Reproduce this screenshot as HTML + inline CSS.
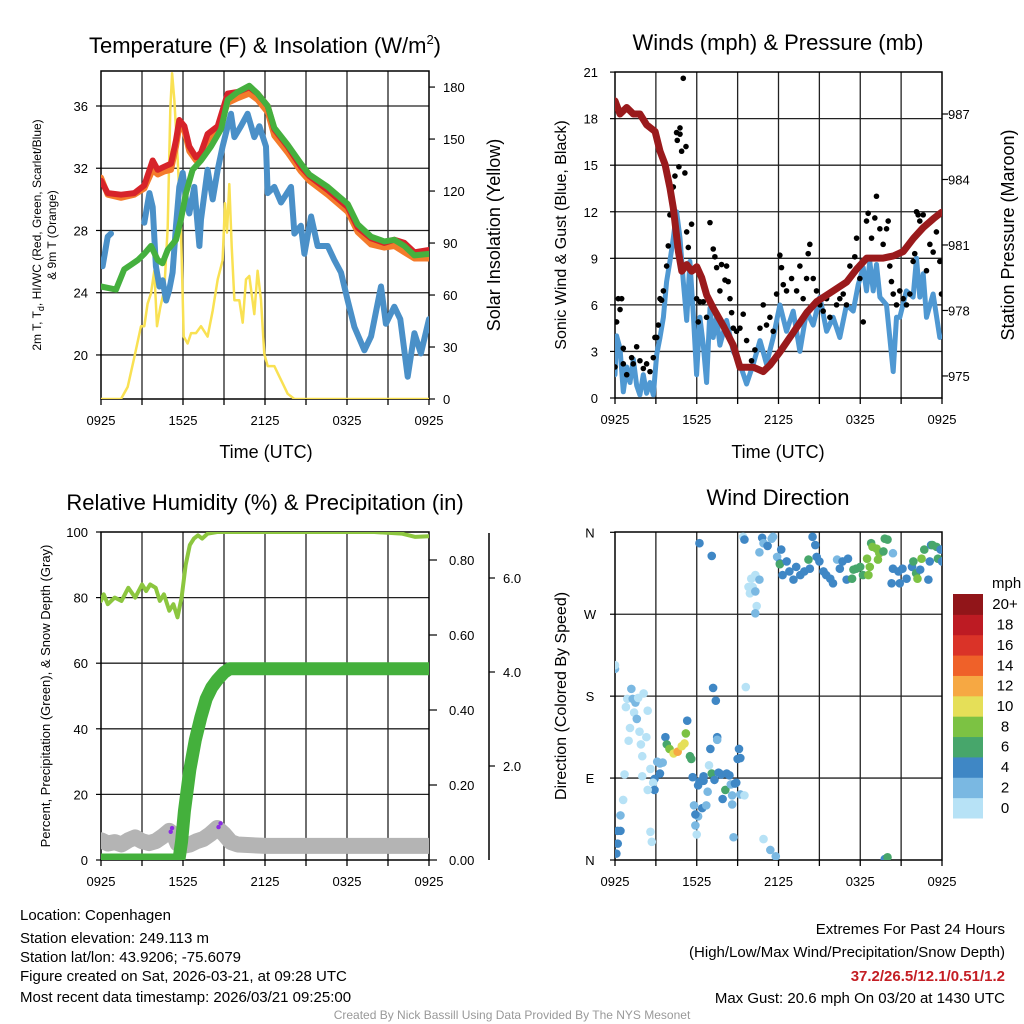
<!DOCTYPE html>
<html><head><meta charset="utf-8"><style>
html,body{margin:0;padding:0;background:#fff;}
svg{display:block;font-family:"Liberation Sans",Arial,sans-serif;}
</style></head><body>
<svg id="fig" width="1024" height="1024" viewBox="0 0 1024 1024" xmlns="http://www.w3.org/2000/svg">
<defs>
<clipPath id="cTL"><rect x="101" y="71" width="328" height="328"/></clipPath>
<clipPath id="cTR"><rect x="615" y="72" width="327" height="326"/></clipPath>
<clipPath id="cBL"><rect x="101" y="532" width="328" height="328"/></clipPath>
<clipPath id="cBR"><rect x="615" y="532" width="327" height="328"/></clipPath>
</defs>
<g id="layer"></g>
<text x="265" y="53" font-size="22" text-anchor="middle">Temperature (F) &amp; Insolation (W/m<tspan font-size="13" dy="-9">2</tspan><tspan dy="9">)</tspan></text>
<text x="778" y="50" font-size="22" text-anchor="middle">Winds (mph) &amp; Pressure (mb)</text>
<text x="265" y="510" font-size="22" text-anchor="middle">Relative Humidity (%) &amp; Precipitation (in)</text>
<text x="778" y="505" font-size="22" text-anchor="middle">Wind Direction</text>
<text x="266" y="458" font-size="18" text-anchor="middle">Time (UTC)</text>
<text x="778" y="458" font-size="18" text-anchor="middle">Time (UTC)</text>
<text transform="translate(41,235) rotate(-90)" font-size="12" text-anchor="middle">2m T, T<tspan font-size="9" dy="3">d</tspan><tspan dy="-3">, HI/WC (Red, Green, Scarlet/Blue)</tspan></text>
<text transform="translate(56,235) rotate(-90)" font-size="12" text-anchor="middle">&amp; 9m T (Orange)</text>
<text transform="translate(500,235) rotate(-90)" font-size="18" text-anchor="middle">Solar Insolation (Yellow)</text>
<text transform="translate(566,235) rotate(-90)" font-size="16" text-anchor="middle">Sonic Wind &amp; Gust (Blue, Black)</text>
<text transform="translate(1014,235) rotate(-90)" font-size="18" text-anchor="middle">Station Pressure (Maroon)</text>
<text transform="translate(50,696) rotate(-90)" font-size="13" text-anchor="middle">Percent, Precipitation (Green), &amp; Snow Depth (Gray)</text>
<text transform="translate(566,696) rotate(-90)" font-size="16" text-anchor="middle">Direction (Colored By Speed)</text>
<g font-size="15">
<text x="20" y="920">Location: Copenhagen</text>
<text x="20" y="943">Station elevation: 249.113 m</text>
<text x="20" y="962">Station lat/lon: 43.9206; -75.6079</text>
<text x="20" y="981">Figure created on Sat, 2026-03-21, at 09:28 UTC</text>
<text x="20" y="1002">Most recent data timestamp: 2026/03/21 09:25:00</text>
</g>
<g font-size="15" text-anchor="end">
<text x="1005" y="934">Extremes For Past 24 Hours</text>
<text x="1005" y="957">(High/Low/Max Wind/Precipitation/Snow Depth)</text>
<text x="1005" y="981" fill="#c41e24" font-weight="bold">37.2/26.5/12.1/0.51/1.2</text>
<text x="1005" y="1003">Max Gust: 20.6 mph On 03/20 at 1430 UTC</text>
</g>
<text x="512" y="1019" font-size="12" fill="#999" text-anchor="middle">Created By Nick Bassill Using Data Provided By The NYS Mesonet</text>
</svg>
<script>
const xTickLabels = ["0925","1525","2125","0325","0925"];
const tempLeftTicks = [20,24,28,32,36];
const solarTicks = [0,30,60,90,120,150,180];
const windTicks = [0,3,6,9,12,15,18,21];
const pressTicks = [975,978,981,984,987];
const rhTicks = [0,20,40,60,80,100];
const precipTicks = ["0.00","0.20","0.40","0.60","0.80"];
const snowTicks = ["2.0","4.0","6.0"];
const dirTicks = ["N","E","S","W","N"];
const speedBins = ["0","2","4","6","8","10","12","14","16","18","20+"];
const speedColors = ["#b7e2f6","#7ab8e2","#3f87c5","#47a66b","#7cc243","#e5df58","#f6a843","#ef6129","#da3328","#bd1b23","#911519"];

const redHours = [0,0.49,1.46,2.44,3.17,3.78,4.15,4.63,5.12,5.49,5.73,6.1,6.46,6.95,7.32,7.8,8.54,9.27,10.0,10.85,11.46,12.2,12.68,13.66,14.63,15.24,16.59,18.05,18.78,19.76,20.73,21.46,22.2,22.93,24];
const redTemp = [31.2,30.4,30.3,30.4,30.9,32.5,31.9,32.1,32.3,33.8,35.1,34.7,33.4,32.7,33.0,34.2,34.7,36.8,36.9,37.2,36.8,36.0,34.5,33.4,32.1,31.5,30.6,29.5,28.2,27.5,27.2,27.4,27.2,26.6,26.75];
const orangeTemp = [31.4,30.3,30.1,30.3,30.7,31.9,31.6,31.8,31.9,33.4,34.7,34.4,33.1,32.5,32.8,33.8,34.3,36.2,36.5,36.8,36.4,35.6,34.1,33.0,31.8,31.2,30.3,29.2,27.9,27.1,26.9,27.0,26.6,26.2,26.2];
const greenHours = [0,1.1,1.7,2.7,3.17,3.66,4.15,4.5,4.88,5.49,5.85,6.22,6.7,7.32,8.05,8.78,9.27,10.0,10.85,11.46,12.2,12.68,13.66,14.63,15.24,16.59,18.05,18.78,19.76,20.73,21.46,22.2,22.93,24];
const greenTemp = [24.4,24.2,25.5,26.1,26.5,27.0,26.1,25.9,26.75,27.4,28.7,30.4,31.9,32.5,33.4,34.5,36.4,36.9,37.3,36.8,36.0,34.6,33.5,32.3,31.6,30.8,29.7,28.4,27.6,27.3,27.4,27.0,26.4,26.5];
const blueHours = [0.12,0.49,0.73,null,3.17,3.54,3.78,4.02,4.27,4.51,4.76,5.0,5.24,5.49,5.73,5.98,6.22,6.46,6.83,7.2,7.32,7.8,8.17,8.54,8.9,9.27,9.51,9.76,10.24,10.73,11.22,11.59,12.07,12.2,12.68,13.17,13.9,14.15,14.63,14.88,15.37,15.85,16.59,17.07,17.56,18.05,18.54,19.27,19.76,20.49,20.85,21.46,21.9,22.44,22.93,23.41,24];
const blueTemp = [25.7,27.6,27.8,null,28.5,30.4,29.5,25.7,24.4,24.8,23.5,24.2,25.3,28.3,30.8,31.7,30.0,29.1,30.8,27.0,28.7,31.9,30.0,31.9,33.4,34.7,35.5,34.0,34.7,35.5,34.0,34.7,33.4,30.4,30.8,29.8,30.8,27.8,28.3,26.5,28.9,27.0,27.0,26.1,25.3,23.5,21.8,20.3,21.2,24.4,22.0,23.1,22.3,18.6,21.4,20.1,22.3];
const solarHours = [0,1.46,1.95,2.44,2.93,3.17,3.41,3.66,3.9,4.1,4.34,4.63,4.88,5.07,5.2,5.37,5.61,5.85,6.05,6.34,6.59,6.95,7.32,7.8,8.17,8.54,8.9,9.07,9.22,9.39,9.56,9.76,10.12,10.37,10.61,10.85,11.22,11.46,11.71,11.95,12.2,12.68,13.17,13.66,14.15,24];
const solarVals = [0,0,7,24,42,42,55,61,74,42,53,63,99,167,188,172,138,99,36,32,38,38,42,36,51,69,80,113,96,124,88,57,57,44,69,71,49,74,57,26,19,19,11,3,0,0];

const windHours = [0,0.12,0.37,0.61,0.86,1.1,1.34,1.59,1.83,2.08,2.32,2.57,2.81,3.06,3.3,3.55,3.79,4.03,4.28,4.52,4.77,5.01,5.26,5.5,5.75,5.99,6.23,6.48,6.72,6.97,7.21,7.46,7.7,8.19,8.68,9.17,9.66,10.15,10.64,11.12,11.61,12.1,12.59,13.08,13.57,14.06,14.55,15.04,15.53,16.01,16.5,16.99,17.48,17.85,18.22,18.46,18.7,18.95,19.19,19.44,19.93,20.42,20.66,20.9,21.39,21.88,22.13,22.37,22.62,22.86,23.35,23.84];
const windSpeed = [1.5,4,3.2,0.4,2,1,2.5,0.8,0.2,1.5,0.3,1,0.2,2.8,3.9,5.2,7.5,8.8,10.3,12,10.3,7.5,5,8.8,5.4,1.5,5.2,3.4,1,5.8,3.9,5.2,3.4,5,3,2.2,0.9,2.2,3.7,2.2,3.9,6,4.3,5.6,3,5.6,4.7,6.5,4.3,5.2,3.9,6,5.6,7.3,8.4,6.9,8.8,6.9,8.6,6.5,6,1.7,5.2,5.2,6.9,6.5,9,6.5,8,5.2,6.7,3.9];
const gustHours = [0,0.12,0.24,0.37,0.49,0.61,0.61,0.86,1.22,1.59,1.34,1.83,2.08,2.32,2.57,2.81,2.93,3.06,3.18,3.3,3.42,3.55,3.79,3.91,4.03,4.16,4.28,4.4,4.52,4.57,4.77,4.77,4.89,5.01,5.13,5.21,4.69,5.26,5.38,5.62,5.99,6.11,6.23,6.48,6.72,6.97,7.21,7.33,7.46,7.7,7.82,8.07,8.19,8.31,8.44,8.56,8.68,8.92,9.17,9.41,9.66,10.02,10.27,10.64,10.88,11.12,11.37,11.61,11.86,12.1,12.22,12.35,12.59,12.96,13.33,13.57,13.81,14.06,14.18,14.3,14.55,14.79,15.04,15.28,15.53,15.77,16.01,16.26,16.5,16.75,16.99,17.24,17.6,17.73,17.97,18.22,18.46,18.58,18.83,19.07,19.19,19.44,19.68,19.93,20.05,20.17,20.29,20.42,20.66,20.9,21.15,21.39,21.64,21.88,22.0,22.13,22.25,22.37,22.62,22.86,23.11,23.35,23.59,23.84,23.96];
const gustSpeed = [2.0,4.9,6.4,5.7,6.4,3.2,2.2,1.5,2.6,3.3,2.2,2.4,1.9,2.2,1.7,2.6,3.9,3.9,4.7,6.4,6.3,6.9,8.5,9.8,11.8,13.5,13.6,14.3,17.1,16.6,17.4,17.0,15.9,20.6,14.5,16.2,14.9,10.7,9.7,11.2,6.4,4.9,6.2,6.2,5.2,11.3,9.6,9.1,8.4,6.9,8.6,7.6,8.5,7.5,6.4,5.5,4.5,4.3,4.5,5.4,3.7,2.4,3.1,4.5,6.0,4.7,5.2,4.3,6.7,9.2,8.4,7.3,6.9,7.7,6.9,8.5,6.4,7.7,9.3,9.9,7.7,6.9,6.0,5.6,6.4,5.2,6.9,6.0,6.4,6.7,6.0,8.5,9.1,10.3,7.7,4.9,11.4,11.9,10.3,11.6,13.0,10.9,9.9,10.9,11.4,8.5,7.5,6.7,6.0,6.9,6.4,6.0,6.7,8.8,9.3,12.0,11.8,11.4,11.8,8.2,9.9,9.4,10.7,8.8,6.7];
const pressHours = [0,0.37,0.86,1.34,1.83,2.33,2.94,3.3,3.67,4.04,4.28,4.65,4.9,5.26,5.63,6.0,6.36,6.73,7.22,7.95,8.68,9.17,10.15,10.88,11.38,12.11,13.09,14.07,14.8,16.02,17.0,17.74,18.47,19.69,20.43,21.16,21.9,22.63,23.36,23.98];
const pressVals = [987.6,987.0,987.3,987.0,987.0,986.5,986.2,985.3,984.7,983.6,982.7,980.7,979.8,980.1,979.8,980.0,979.5,978.7,978.1,977.3,976.4,975.4,975.4,975.2,975.5,976.1,977.0,977.9,978.4,978.9,979.3,979.9,980.4,980.4,980.5,980.7,981.3,981.8,982.2,982.5];

const rhHours = [0,0.2,0.5,1,1.5,2,2.5,3,3.3,3.6,4,4.3,4.6,5,5.3,5.6,5.9,6.2,6.5,6.8,7.1,7.4,7.8,8.5,12,16,20,22,23,24];
const rhVals = [79,81,78,80,79,83,80,84,82,84,83,79,81,76,78,74,80,90,96,98,99,98,99.5,100,100,100,100,99.5,98.5,98.7];
const precipHours = [0,5.7,5.9,6.1,6.5,6.9,7.3,7.7,8.1,8.5,9.0,9.4,24];
const precipVals = [0,0,0.05,0.13,0.24,0.32,0.38,0.43,0.46,0.48,0.50,0.51,0.51];
const snowHours = [0,0.5,1,1.5,2,2.5,3,3.5,4,4.5,5,5.3,5.6,6,6.5,7,7.5,8,8.5,9,9.5,10,12,16,20,24];
const snowVals = [0.42,0.35,0.38,0.33,0.42,0.48,0.4,0.36,0.4,0.5,0.62,0.55,0.35,0.3,0.33,0.4,0.45,0.55,0.68,0.55,0.38,0.33,0.3,0.3,0.3,0.3];
const purpleHours = [5.1,5.2,8.6,8.75];
const purpleVals = [0.6,0.68,0.7,0.78];

const dirHours = [6.2,7.1,9.4,9.5,10.8,10.9,11.2,11.5,11.6,10.6,11.9,12.2,12.1,12.1,12.6,12.3,12.8,13.1,13.3,13.6,13.9,14.2,14.3,14.5,14.7,14.8,15.0,15.3,15.5,15.8,16.0,16.3,16.5,16.7,17.0,17.1,17.4,17.5,17.7,18.0,18.2,18.5,18.6,18.7,18.8,18.9,19.2,19.3,19.4,19.7,19.8,20.0,20.3,20.4,20.4,20.8,20.9,21.1,21.4,21.8,21.9,22.1,22.2,22.4,22.5,22.7,23.0,23.1,23.2,23.3,23.6,23.7,23.9,24.0,
10.0,10.3,10.6,9.8,10.1,9.9,10.3,10.4,10.3,
0,0,1.2,0.9,1.3,1.5,2.1,1.7,0.8,1.4,2.4,1.6,1.1,1.8,2.3,1.0,1.9,2.0,3.1,3.3,3.5,3.3,2.9,0.7,2.0,2.6,2.8,2.9,2.4,0.6,0.4,0.2,0.4,0.2,0.1,2.6,2.7,
3.7,3.8,4.0,4.3,4.6,4.9,5.1,5.2,5.3,5.5,5.6,5.7,6.1,6.2,6.5,6.5,6.8,7.0,7.1,7.3,7.5,7.5,7.2,7.4,6.9,7.6,7.8,8.1,7.9,8.2,8.4,8.5,8.6,8.8,8.9,9.1,9.0,9.2,9.2,9.5,9.6,8.6,5.8,6.1,6.4,6.7,5.9,5.9,6.0,8.7,10.9,11.4,11.8,19.8,20.0];
const dirDeg = [348,334,355,352,354,348,345,353,355,338,333,341,326,325,328,313,317,308,322,313,317,330,320,355,346,333,328,317,313,309,304,330,320,328,308,331,309,319,320,322,313,331,313,322,348,344,342,330,337,339,353,352,304,337,320,317,304,320,309,322,328,315,309,319,331,341,308,328,346,346,344,331,341,328,
309,313,308,300,300,293,295,279,271,
210,214,188,177,177,173,183,178,168,162,164,155,145,141,135,131,127,114,108,106,107,95,89,94,92,100,85,77,77,66,49,32,32,18,7,31,20,
135,127,122,117,119,125,128,139,153,114,111,91,82,86,87,92,75,122,95,88,135,132,189,175,104,96,94,77,67,95,93,83,71,84,85,122,111,112,72,71,190,61,60,48,57,60,50,38,28,25,23,11,4,1,3];
const dirSpeed = [5,5,1,5,5,3,5,3,3,3,3,5,5,7,5,5,5,5,5,5,5,7,5,5,5,5,5,5,5,5,5,3,5,5,5,5,7,7,7,7,7,9,9,9,7,9,9,9,9,7,7,7,5,3,5,5,5,5,5,5,7,7,9,5,9,7,5,5,5,7,7,7,5,5,
1,1,3,1,1,1,3,1,3,
3,1,3,1,3,3,1,1,1,1,1,3,1,1,1,1,1,1,3,3,3,5,5,1,1,1,1,5,1,1,3,5,5,5,5,1,1,
5,7,9,11,13,11,11,9,5,7,7,5,5,5,5,5,3,5,7,5,5,3,5,5,1,5,5,7,5,5,5,3,3,5,5,5,5,5,3,1,1,3,3,3,5,3,5,3,1,3,1,3,3,5,7];

const NS = "http://www.w3.org/2000/svg";
const layer = document.getElementById("layer");
const xTL = h => 101 + h * 328 / 24;
const xTR = h => 615 + h * 327 / 24;
const yTemp = v => 106 + (36 - v) * 15.56;
const ySolar = v => 399 - v * 1.733;
const yWind = v => 398 - v * 15.52;
const yPress = p => 114 + (987 - p) * 21.83;
const yRH = v => 860 - v * 3.28;
const yPrecip = v => 860 - v * 375;
const ySnow = v => 860 - v * 47;
const yDir = d => 860 - d * 327.7 / 360;

function mk(tag, attrs, parent) {
  const e = document.createElementNS(NS, tag);
  for (const k in attrs) e.setAttribute(k, attrs[k]);
  (parent || layer).appendChild(e);
  return e;
}
function group(clip) {
  return mk("g", clip ? {"clip-path": "url(#" + clip + ")"} : {});
}
function pathFrom(xs, ys, xf, yf) {
  let d = "", pen = false;
  for (let i = 0; i < xs.length; i++) {
    if (xs[i] === null) { pen = false; continue; }
    d += (pen ? "L" : "M") + xf(xs[i]).toFixed(1) + " " + yf(ys[i]).toFixed(1);
    pen = true;
  }
  return d;
}

function frame(x0, y0, x1, y1, hLines, name) {
  const g = group();
  
  
  for (let i = 1; i < 8; i++) {
    const x = x0 + (x1 - x0) * i / 8;
    mk("line", {x1: x, y1: y0, x2: x, y2: y1, stroke: "#222", "stroke-width": 1.3}, g);
  }
  hLines.forEach(y => mk("line", {x1: x0, y1: y, x2: x1, y2: y, stroke: "#222", "stroke-width": 1.3}, g));
  const r = mk("rect", {x: x0, y: y0, width: x1 - x0, height: y1 - y0, fill: "none", stroke: "#000", "stroke-width": 1.5});
  
  
  for (let i = 0; i <= 8; i++) {
    const x = x0 + (x1 - x0) * i / 8;
    mk("line", {x1: x, y1: y1, x2: x, y2: y1 + 6, stroke: "#000", "stroke-width": 1.3});
  }
  xTickLabels.forEach((t, i) => {
    const tx = mk("text", {x: x0 + (x1 - x0) * i / 4, y: y1 + 26, "font-size": 13, "text-anchor": "middle"});
    tx.textContent = t;
    
    
  });
}
frame(101, 71, 429, 399, tempLeftTicks.map(yTemp), "temp-panel");
frame(615, 72, 942, 398, windTicks.slice(1, 7).map(yWind), "wind-panel");
frame(101, 532, 429, 860, rhTicks.slice(1, 5).map(yRH), "rh-panel");
frame(615, 532, 942, 860, [90, 180, 270].map(yDir), "dir-panel");

function yLabel(x, y, t, anchor, name, size) {
  const tx = mk("text", {x: x, y: y + 5, "font-size": size || 13, "text-anchor": anchor});
  tx.textContent = t;
  
  
}
function tick(x, y, dx) { mk("line", {x1: x, y1: y, x2: x + dx, y2: y, stroke: "#000", "stroke-width": 1.2}); }
tempLeftTicks.forEach(v => { yLabel(88, yTemp(v), String(v), "end", "temp-y-tick-label"); tick(101, yTemp(v), -5); });
solarTicks.forEach(v => { yLabel(443, ySolar(v), String(v), "start", "solar-y-tick-label"); tick(429, ySolar(v), 6); });
windTicks.forEach(v => { yLabel(598, yWind(v), String(v), "end", "wind-y-tick-label"); tick(615, yWind(v), -5); });
pressTicks.forEach(v => { yLabel(948, yPress(v), String(v), "start", "pressure-y-tick-label"); tick(942, yPress(v), 6); });
rhTicks.forEach(v => { yLabel(88, yRH(v), String(v), "end", "rh-y-tick-label"); tick(101, yRH(v), -5); });
precipTicks.forEach(v => { yLabel(449, yPrecip(+v), v, "start", "precip-y-tick-label"); tick(429, yPrecip(+v), 8); });
snowTicks.forEach(v => { yLabel(503, ySnow(+v), v, "start", "snow-y-tick-label"); tick(489, ySnow(+v), 6); });
dirTicks.forEach((v, i) => { yLabel(590, yDir(i * 90), v, "middle", "direction-y-tick-label"); tick(615, yDir(i * 90), -5); });
mk("line", {x1: 489, y1: 533, x2: 489, y2: 860, stroke: "#000", "stroke-width": 1.5});

const gTL = group("cTL");
function line(g, d, color, w, name) {
  const p = mk("path", {d: d, fill: "none", stroke: color, "stroke-width": w, "stroke-linejoin": "round", "stroke-linecap": "round"}, g);
  
  
}
line(gTL, pathFrom(solarHours, solarVals, xTL, ySolar), "#f9e153", 2.5, "solar-insolation-line");
line(gTL, pathFrom(blueHours, blueTemp, xTL, yTemp), "#4a90c8", 6, "dewpoint-line");
line(gTL, pathFrom(redHours, orangeTemp, xTL, yTemp), "#f47b2b", 6, "temp-9m-line");
line(gTL, pathFrom(redHours, redTemp, xTL, yTemp), "#d7232a", 6, "temp-2m-line");
line(gTL, pathFrom(greenHours, greenTemp, xTL, yTemp), "#45b03e", 6, "heat-index-line");

const gTR = group("cTR");
line(gTR, pathFrom(windHours, windSpeed, xTR, yWind), "#4f98d2", 5, "sonic-wind-line");
gustHours.forEach((h, i) => {
  const c = mk("circle", {cx: xTR(h), cy: yWind(gustSpeed[i]), r: 2.8, fill: "#000"}, gTR);
  
  
});
line(gTR, pathFrom(pressHours, pressVals, xTR, yPress), "#9a1a1c", 7, "pressure-line");

const gBL = group("cBL");
line(gBL, pathFrom(snowHours, snowVals, xTL, ySnow), "#b4b4b4", 16, "snow-depth-line");
purpleHours.forEach((h, i) => {
  const c = mk("circle", {cx: xTL(h), cy: ySnow(purpleVals[i]), r: 2.2, fill: "#8a2be2"}, gBL);
  
  
});
line(gBL, pathFrom(rhHours, rhVals, xTL, yRH), "#8cc63f", 4, "relative-humidity-line");
line(gBL, pathFrom(precipHours, precipVals, xTL, yPrecip), "#44b03c", 13, "precipitation-line");

const gBR = group("cBR");
function colorFor(s) {
  return speedColors[Math.min(10, Math.floor(s / 2))];
}
dirHours.forEach((h, i) => {
  const c = mk("circle", {cx: xTR(h), cy: yDir(dirDeg[i]), r: 4.3, fill: colorFor(dirSpeed[i])}, gBR);
  
  
});

const cb = group();


const binH = 224 / speedBins.length;
speedBins.forEach((lab, i) => {
  const y = 818 - (i + 1) * binH;
  const r = mk("rect", {x: 953, y: y, width: 30, height: binH + 0.5, fill: speedColors[i]}, cb);
  
  
  const t = mk("text", {x: 1005, y: y + binH / 2 + 5, "font-size": 15, "text-anchor": "middle"}, cb);
  t.textContent = lab;
  
  
});
const mph = mk("text", {x: 992, y: 588, "font-size": 15}, cb);
mph.textContent = "mph";


</script>
</body></html>
